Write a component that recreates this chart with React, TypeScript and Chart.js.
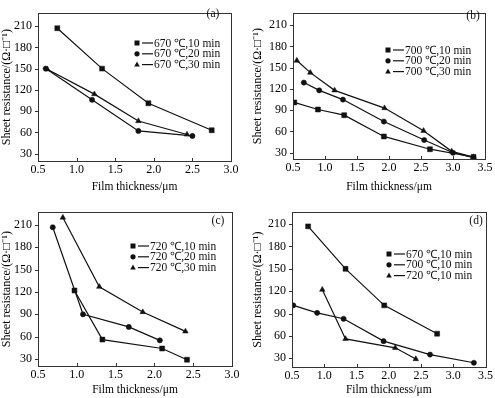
import React, { useEffect, useRef } from "react";
import { Chart, registerables } from "chart.js";

Chart.register(...registerables);

// ---------- Tick labels ----------
const xTicks30 = [0.5, 1.0, 1.5, 2.0, 2.5, 3.0];
const xTicks35 = [0.5, 1.0, 1.5, 2.0, 2.5, 3.0, 3.5];
const yTicks = [30, 60, 90, 120, 150, 180, 210];

const xTitle = "Film thickness/μm";
const yTitle = "Sheet resistance/(Ω·□⁻¹)";

// ---------- Panel (a): 670 ℃ ----------
const a10Label = "670 ℃,10 min";
const a10x = [0.75, 1.33, 1.93, 2.75];
const a10y = [207, 150, 101, 63];
const a20Label = "670 ℃,20 min";
const a20x = [0.6, 1.2, 1.8, 2.5];
const a20y = [150, 106, 62, 55];
const a30Label = "670 ℃,30 min";
const a30x = [0.62, 1.23, 1.8, 2.43];
const a30y = [149, 114, 76, 57];

// ---------- Panel (b): 700 ℃ ----------
const b10Label = "700 ℃,10 min";
const b10x = [0.52, 0.89, 1.3, 1.92, 2.64, 3.32];
const b10y = [101, 91, 83, 53, 35, 24];
const b20Label = "700 ℃,20 min";
const b20x = [0.67, 0.91, 1.28, 1.92, 2.55, 3.0, 3.32];
const b20y = [129, 118, 105, 74, 48, 30, 23];
const b30Label = "700 ℃,30 min";
const b30x = [0.56, 0.77, 1.15, 1.93, 2.54, 2.98, 3.32];
const b30y = [160, 143, 118, 93, 61, 32, 24];

// ---------- Panel (c): 720 ℃ ----------
const c10Label = "720 ℃,10 min";
const c10x = [0.97, 1.33, 2.1, 2.42];
const c10y = [122, 56, 44, 29];
const c20Label = "720 ℃,20 min";
const c20x = [0.69, 1.08, 1.67, 2.07];
const c20y = [207, 90, 73, 55];
const c30Label = "720 ℃,30 min";
const c30x = [0.82, 1.29, 1.85, 2.4];
const c30y = [220, 127, 93, 67];

// ---------- Panel (d): 10 min comparison ----------
const d670Label = "670 ℃,10 min";
const d700Label = "700 ℃,10 min";
const d720Label = "720 ℃,10 min";

type Marker = "rect" | "circle" | "triangle";
type Series = { label: string; xs: number[]; ys: number[]; marker: Marker };
type Panel = {
  tag: string;
  series: Series[];
  xMax: number;
  xTicks: number[];
  yMin: number;
  yMax: number;
  canvas: [number, number, number, number]; // left, top, width, height
  area: [number, number, number, number]; // left, top, right, bottom
  legend: [number, number];
  tagPos: [number, number];
  xTitlePad: number;
  yTitlePad: number;
  yTickPad: number;
};

const panels: Panel[] = [
  {
    tag: "(a)",
    series: [
      { label: a10Label, xs: a10x, ys: a10y, marker: "rect" },
      { label: a20Label, xs: a20x, ys: a20y, marker: "circle" },
      { label: a30Label, xs: a30x, ys: a30y, marker: "triangle" },
    ],
    xMax: 3.0,
    xTicks: xTicks30,
    yMin: 19.6,
    yMax: 228.2,
    canvas: [0, 0, 247, 199],
    area: [38, 2, 231, 161],
    legend: [137, 43],
    tagPos: [213, 14],
    xTitlePad: 5,
    yTitlePad: 0,
    yTickPad: 6,
  },
  {
    tag: "(b)",
    series: [
      { label: b10Label, xs: b10x, ys: b10y, marker: "rect" },
      { label: b20Label, xs: b20x, ys: b20y, marker: "circle" },
      { label: b30Label, xs: b30x, ys: b30y, marker: "triangle" },
    ],
    xMax: 3.5,
    xTicks: xTicks35,
    yMin: 21.2,
    yMax: 226.8,
    canvas: [247, 0, 248, 199],
    area: [293, 5, 485, 159],
    legend: [388, 50],
    tagPos: [473, 16],
    xTitlePad: 5,
    yTitlePad: 4,
    yTickPad: 6,
  },
  {
    tag: "(c)",
    series: [
      { label: c10Label, xs: c10x, ys: c10y, marker: "rect" },
      { label: c20Label, xs: c20x, ys: c20y, marker: "circle" },
      { label: c30Label, xs: c30x, ys: c30y, marker: "triangle" },
    ],
    xMax: 3.0,
    xTicks: xTicks30,
    yMin: 20.5,
    yMax: 227.2,
    canvas: [0, 199, 247, 199],
    area: [38, 207, 232, 366],
    legend: [133, 246],
    tagPos: [218, 221],
    xTitlePad: 1,
    yTitlePad: 0,
    yTickPad: 6,
  },
  {
    tag: "(d)",
    series: [
      { label: d670Label, xs: a10x, ys: a10y, marker: "rect" },
      { label: d700Label, xs: b10x, ys: b10y, marker: "circle" },
      { label: d720Label, xs: c10x, ys: c10y, marker: "triangle" },
    ],
    xMax: 3.5,
    xTicks: xTicks35,
    yMin: 18.3,
    yMax: 226,
    canvas: [247, 199, 248, 199],
    area: [292, 207, 487, 367],
    legend: [389, 254],
    tagPos: [476, 221],
    xTitlePad: 1,
    yTitlePad: 4,
    yTickPad: 6,
  },
];

const FONT_FAMILY = '"Liberation Serif", "Times New Roman", serif';
const INK = "#111";

function drawMarker(ctx: CanvasRenderingContext2D, m: Marker, x: number, y: number) {
  ctx.beginPath();
  if (m === "rect") {
    ctx.rect(x - 2.5, y - 2.5, 5, 5);
  } else if (m === "circle") {
    ctx.arc(x, y, 2.6, 0, Math.PI * 2);
  } else {
    ctx.moveTo(x, y - 3);
    ctx.lineTo(x + 2.8, y + 2);
    ctx.lineTo(x - 2.8, y + 2);
    ctx.closePath();
  }
  ctx.fill();
}

function PanelChart({ p }: { p: Panel }) {
  const ref = useRef<HTMLCanvasElement | null>(null);

  useEffect(() => {
    const canvas = ref.current;
    if (!canvas) return;
    const [cl, ct, cw, ch] = p.canvas;
    const [al, at, ar, ab] = p.area;
    const yW = al - cl;
    const xH = ct + ch - ab;

    const decor = {
      id: "decor" + p.tag,
      afterDraw(chart: any) {
        const ctx = chart.ctx as CanvasRenderingContext2D;
        const a = chart.chartArea;
        const xs = chart.scales.x;
        const ys = chart.scales.y;
        ctx.save();
        // frame
        ctx.strokeStyle = "#333";
        ctx.lineWidth = 1;
        ctx.strokeRect(Math.round(a.left) + 0.5, Math.round(a.top) + 0.5, Math.round(a.right - a.left), Math.round(a.bottom - a.top));
        // x ticks (inward)
        ctx.beginPath();
        p.xTicks.forEach((v) => {
          const px = Math.round(xs.getPixelForValue(v)) + 0.5;
          ctx.moveTo(px, a.bottom);
          ctx.lineTo(px, a.bottom - 3);
        });
        // y ticks (outward)
        yTicks.forEach((v) => {
          const py = Math.round(ys.getPixelForValue(v)) + 0.5;
          ctx.moveTo(a.left, py);
          ctx.lineTo(a.left - 3, py);
        });
        ctx.stroke();

        // legend
        const lx = p.legend[0] - cl;
        const ly = p.legend[1] - ct;
        ctx.fillStyle = INK;
        ctx.strokeStyle = INK;
        ctx.lineWidth = 1.2;
        ctx.font = "11.5px " + FONT_FAMILY;
        ctx.textBaseline = "middle";
        ctx.textAlign = "left";
        p.series.forEach((s, i) => {
          const y = ly + i * 10.8;
          drawMarker(ctx, s.marker, lx, y);
          ctx.beginPath();
          ctx.moveTo(lx + 5, y);
          ctx.lineTo(lx + 16, y);
          ctx.stroke();
          ctx.fillText(s.label, lx + 17, y + 0.5);
        });

        // panel tag
        ctx.font = "11.5px " + FONT_FAMILY;
        ctx.textAlign = "center";
        ctx.fillText(p.tag, p.tagPos[0] - cl, p.tagPos[1] - ct);
        ctx.restore();
      },
    };

    const tickFont = { family: FONT_FAMILY, size: 12 };
    const xTitleFont = { family: FONT_FAMILY, size: 11.5 };
    const yTitleFont = { family: FONT_FAMILY, size: 12 };

    const chart = new Chart(canvas, {
      type: "line",
      data: {
        datasets: p.series.map((s) => ({
          label: s.label,
          data: s.xs.map((x, i) => ({ x, y: s.ys[i] })),
          borderColor: INK,
          backgroundColor: INK,
          borderWidth: 1.2,
          pointStyle: s.marker,
          pointRadius: s.marker === "rect" ? 3.5 : s.marker === "circle" ? 2.6 : 3.2,
          pointBorderWidth: 0.5,
          pointBackgroundColor: INK,
          pointBorderColor: INK,
          tension: 0,
          fill: false,
        })),
      },
      options: {
        animation: false,
        responsive: false,
        maintainAspectRatio: false,
        devicePixelRatio: 1,
        layout: {
          padding: { left: 0, top: at - ct, right: cl + cw - ar, bottom: 0 },
        },
        plugins: { legend: { display: false }, tooltip: { enabled: false } },
        scales: {
          x: {
            type: "linear",
            min: 0.5,
            max: p.xMax,
            afterBuildTicks: (s: any) => {
              s.ticks = p.xTicks.map((v) => ({ value: v }));
            },
            afterFit: (s: any) => {
              s.height = xH;
            },
            grid: { display: false, drawTicks: false },
            border: { display: false },
            ticks: {
              color: "#000",
              font: tickFont,
              padding: 2,
              maxRotation: 0,
              autoSkip: false,
              callback: (v: any) => Number(v).toFixed(1),
            },
            title: {
              display: true,
              text: xTitle,
              color: "#000",
              font: xTitleFont,
              padding: { top: 0, bottom: p.xTitlePad },
            },
          },
          y: {
            type: "linear",
            min: p.yMin,
            max: p.yMax,
            afterBuildTicks: (s: any) => {
              s.ticks = yTicks.map((v) => ({ value: v }));
            },
            afterFit: (s: any) => {
              s.width = yW;
            },
            grid: { display: false, drawTicks: false },
            border: { display: false },
            ticks: {
              color: "#000",
              font: tickFont,
              padding: p.yTickPad,
              autoSkip: false,
              callback: (v: any) => String(v),
            },
            title: {
              display: true,
              text: yTitle,
              color: "#000",
              font: yTitleFont,
              padding: { top: p.yTitlePad, bottom: 0 },
            },
          },
        },
      },
      plugins: [decor],
    } as any);

    return () => chart.destroy();
  }, [p]);

  const [cl, ct, cw, ch] = p.canvas;
  return (
    <canvas
      ref={ref}
      width={cw}
      height={ch}
      style={{ position: "absolute", left: cl, top: ct, width: cw, height: ch }}
    />
  );
}

export default function App() {
  return (
    <div
      style={{
        position: "absolute",
        left: 0,
        top: 0,
        width: 495,
        height: 398,
        background: "#fff",
        overflow: "hidden",
      }}
    >
      {panels.map((p) => (
        <PanelChart key={p.tag} p={p} />
      ))}
    </div>
  );
}
